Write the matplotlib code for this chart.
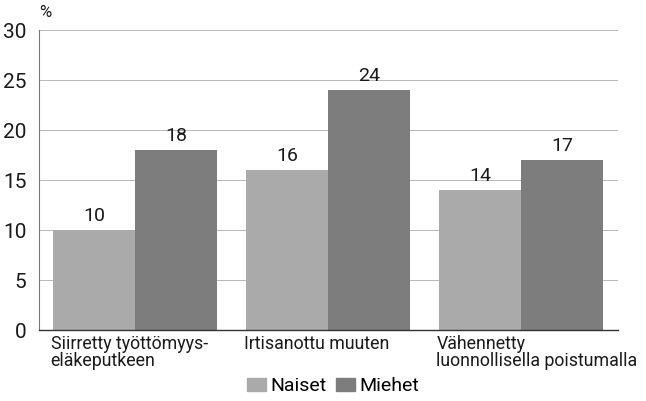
import matplotlib.pyplot as plt
import numpy as np
from matplotlib.patches import Patch

plt.rcParams['font.family'] = ['Roboto', 'DejaVu Sans']

categories = ['Siirretty työttömyys-\neläkeputkeen', 'Irtisanottu muuten',
              'Vähennetty\nluonnollisella poistumalla']
naiset = [10, 16, 14]
miehet = [18, 24, 17]
yticks = [0, 5, 10, 15, 20, 25, 30]

c_naiset = '#aaaaaa'
c_miehet = '#7d7d7d'

fig = plt.figure(figsize=(6.46, 4.01), dpi=100)
ax = fig.add_axes([0.0604, 0.177, 0.896, 0.748])

x = np.arange(len(categories))
w = 0.425
b1 = ax.bar(x - w / 2, naiset, w, color=c_naiset, zorder=2)
b2 = ax.bar(x + w / 2, miehet, w, color=c_miehet, zorder=2)

for bars, vals in ((b1, naiset), (b2, miehet)):
    for r, v in zip(bars, vals):
        ax.text(r.get_x() + r.get_width() / 2, v + 0.5, str(v),
                ha='center', va='bottom', fontsize=14, color='#1a1a1a')

ax.set_xlim(-0.5, 2.5)
ax.set_ylim(0, 30)
ax.set_yticks(yticks)
ax.set_xticks([])
ax.tick_params(axis='y', length=0, labelsize=15, pad=9, labelcolor='#1a1a1a')
ax.yaxis.grid(True, color='#b8b8b8', linewidth=0.7, zorder=0)

for s in ('top', 'right'):
    ax.spines[s].set_visible(False)
ax.spines['left'].set_color('#777777')
ax.spines['left'].set_linewidth(0.8)
ax.spines['bottom'].set_color('#333333')
ax.spines['bottom'].set_linewidth(1.0)

# category labels, left aligned at the start of each bar pair
for xi, lab in zip(x, categories):
    ax.text(xi - w - 0.015, -0.5, lab, ha='left', va='top', fontsize=12.8,
            color='#1a1a1a', linespacing=0.95, transform=ax.transData,
            clip_on=False)

ax.text(-0.5, 31.0, '%', ha='left', va='bottom', fontsize=12, color='#1a1a1a')

handles = [Patch(color=c_naiset, label='Naiset'), Patch(color=c_miehet, label='Miehet')]
fig.legend(handles=handles, loc='center', bbox_to_anchor=(0.515, 0.037), ncol=2,
           frameon=False, fontsize=14, handlelength=1.0, handleheight=0.7,
           handletextpad=0.2, columnspacing=0.5, borderaxespad=0)

fig.savefig('out.png', dpi=100)
